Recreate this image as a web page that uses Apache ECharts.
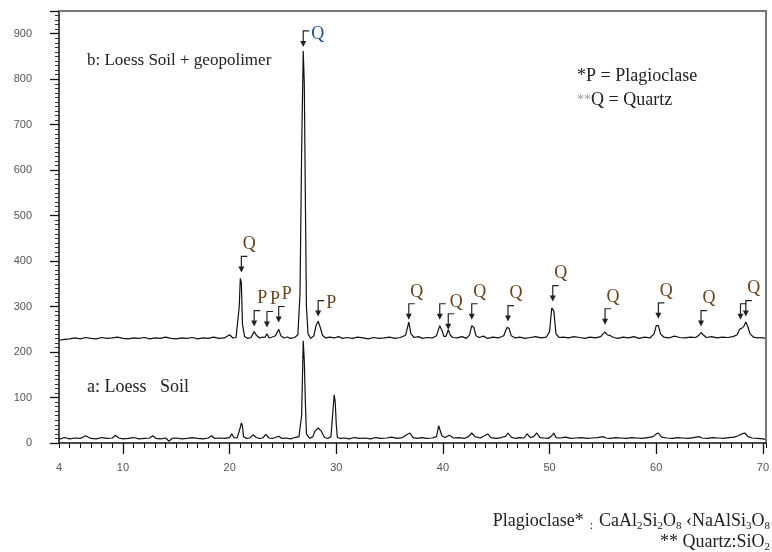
<!DOCTYPE html>
<html>
<head>
<meta charset="utf-8">
<script src="https://cdn.jsdelivr.net/npm/echarts@6/dist/echarts.min.js"></script>
<style>
  html,body{margin:0;padding:0;background:#fff;}
  #box{width:772px;height:552px;}
</style>
</head>
<body>
<div id="box"></div>
<script>
// b: Loess Soil + geopolimer  [2theta, counts]
var traceB=[
  [4.0,226],[4.5,228],[5.0,229],[5.5,231],[6.0,229],[6.5,232],[7.0,230],[7.5,229],[8.0,232],[8.5,230],
  [9.0,231],[9.5,233],[10.0,230],[10.5,229],[11.0,231],[11.5,230],[12.0,232],[12.5,229],[13.0,231],[13.5,230],
  [14.0,233],[14.5,230],[15.0,229],[15.5,231],[16.0,230],[16.5,232],[17.0,229],[17.5,231],[18.0,230],[18.5,233],
  [19.0,230],[19.5,231],[20.0,238],[20.3,231],[20.6,232],[20.9,300],[21.0,362],[21.1,352],[21.2,262],[21.4,234],
  [21.7,230],[22.0,232],[22.3,245],[22.5,237],[22.8,231],[23.1,233],[23.3,232],[23.5,240],[23.7,231],[24.0,233],
  [24.3,236],[24.6,250],[24.8,236],[25.1,231],[25.4,233],[25.7,230],[26.1,232],[26.4,238],[26.6,330],[26.75,640],
  [26.9,862],[27.0,790],[27.1,540],[27.2,300],[27.35,240],[27.6,230],[27.9,236],[28.1,258],[28.3,268],[28.5,254],
  [28.7,237],[29.0,231],[29.4,233],[29.8,231],[30.2,234],[30.6,230],[31.0,232],[31.5,230],[32.0,233],[32.5,231],
  [33.0,229],[33.5,232],[34.0,230],[34.5,231],[35.0,233],[35.5,230],[36.0,232],[36.5,237],[36.8,266],[37.0,240],
  [37.3,232],[37.7,234],[38.1,230],[38.5,232],[39.0,231],[39.4,236],[39.7,258],[39.9,248],[40.1,234],[40.3,235],
  [40.5,249],[40.7,237],[40.9,232],[41.3,231],[41.8,234],[42.2,230],[42.5,238],[42.7,258],[42.9,254],[43.1,236],
  [43.4,232],[43.8,235],[44.2,230],[44.7,233],[45.2,231],[45.7,236],[46.0,254],[46.2,252],[46.4,236],[46.8,231],
  [47.2,233],[47.7,230],[48.2,232],[48.7,234],[49.2,231],[49.7,233],[50.0,245],[50.2,297],[50.4,290],[50.6,240],
  [50.9,232],[51.3,233],[51.8,231],[52.3,234],[52.8,232],[53.3,230],[53.8,233],[54.3,231],[54.8,234],[55.0,240],
  [55.2,244],[55.4,238],[55.7,236],[56.0,232],[56.4,230],[56.9,233],[57.4,231],[57.9,234],[58.4,230],[58.9,233],
  [59.4,231],[59.8,240],[60.0,258],[60.2,258],[60.4,240],[60.7,233],[61.2,231],[61.7,235],[62.2,232],[62.7,231],
  [63.2,233],[63.7,232],[64.0,237],[64.2,243],[64.4,238],[64.7,232],[65.2,234],[65.7,231],[66.2,233],[66.7,232],
  [67.2,234],[67.6,238],[67.8,250],[68.0,252],[68.2,256],[68.4,266],[68.6,255],[68.8,240],[69.1,233],[69.5,231],
  [69.9,232],[70.2,230]
];
// a: Loess Soil
var traceA=[
  [4.0,8],[4.5,12],[5.0,9],[5.5,11],[6.0,10],[6.5,16],[6.8,12],[7.0,10],[7.5,9],[8.0,12],
  [8.5,10],[9.0,11],[9.3,17],[9.6,11],[10.0,9],[10.5,10],[11.0,12],[11.5,9],[12.0,10],[12.5,11],
  [12.8,16],[13.1,10],[13.5,9],[14.0,11],[14.3,4],[14.6,10],[15.0,11],[15.5,9],[16.0,10],[16.5,12],
  [17.0,10],[17.5,9],[18.0,11],[18.3,16],[18.6,10],[19.0,11],[19.5,10],[20.0,12],[20.2,20],[20.4,12],
  [20.7,11],[20.95,30],[21.1,44],[21.2,38],[21.3,14],[21.6,10],[21.9,11],[22.2,18],[22.5,12],[22.8,10],
  [23.1,11],[23.4,19],[23.7,11],[24.0,10],[24.3,12],[24.6,15],[24.9,10],[25.3,11],[25.7,9],[26.1,12],
  [26.5,14],[26.75,60],[26.9,225],[27.0,180],[27.1,90],[27.2,20],[27.5,10],[27.8,14],[28.0,26],[28.3,33],
  [28.6,26],[28.9,12],[29.2,10],[29.5,14],[29.65,60],[29.8,106],[29.9,90],[30.0,40],[30.1,12],[30.4,10],
  [30.8,11],[31.2,9],[31.7,12],[32.2,10],[32.7,11],[33.2,9],[33.7,12],[34.2,10],[34.7,11],[35.2,13],
  [35.7,10],[36.2,12],[36.6,18],[36.9,22],[37.2,12],[37.6,10],[38.0,12],[38.5,10],[39.0,11],[39.4,14],
  [39.6,38],[39.75,40],[39.9,16],[40.2,12],[40.6,17],[41.0,11],[41.5,12],[42.0,10],[42.4,14],[42.7,22],
  [43.0,14],[43.5,11],[43.9,16],[44.2,20],[44.5,12],[45.0,10],[45.5,12],[45.9,15],[46.1,22],[46.4,13],
  [46.8,10],[47.2,12],[47.6,11],[47.9,20],[48.2,12],[48.5,14],[48.8,22],[49.1,12],[49.5,11],[49.9,10],
  [50.2,16],[50.4,22],[50.6,12],[51.0,11],[51.5,13],[52.0,10],[52.5,11],[53.0,12],[53.5,10],[54.0,11],
  [54.5,12],[55.0,14],[55.3,11],[55.7,10],[56.2,12],[56.7,11],[57.2,10],[57.7,12],[58.2,11],[58.7,10],
  [59.2,12],[59.7,14],[60.0,20],[60.2,22],[60.5,13],[61.0,11],[61.5,10],[62.0,12],[62.5,11],[63.0,10],
  [63.5,12],[64.0,14],[64.3,11],[64.8,10],[65.3,12],[65.8,11],[66.3,10],[66.8,12],[67.3,13],[67.7,16],
  [68.0,20],[68.3,22],[68.6,14],[69.0,11],[69.5,10],[70.0,9],[70.2,8]
];

// peak markers: position, value where the arrow ends, letter
var markX=[21.1,22.3,23.5,24.6,26.9,28.3,36.8,39.7,40.5,42.7,46.1,50.3,55.2,60.2,64.2,67.9,68.4];
var markTip=[375,256,254,265,871,278,271,271,249,271,267,311,260,273,256,271,278];
var markLabel=['Q','P','P','P','Q','P','Q','','Q','Q','Q','Q','Q','Q','Q','','Q'];
var markSide=['top','top','top','top','right','right','top','top','top','top','top','top','top','top','top','top','top'];

var xLabels=[4,10,20,30,40,50,60,70];
var xMajor=[10,20,30,40,50,60,70];

var markData=[];
for(var i=0;i<markX.length;i++){
  markData.push([markX[i],markTip[i],i]);
}

function drawArrow(params,api){
  var i=api.value(2);
  var p=api.coord([api.value(0),api.value(1)]);
  var top=p[1]-16;
  var kids=[
    {type:'polyline',shape:{points:[[p[0]+6,top],[p[0],top],[p[0],p[1]-4]]},
      style:{stroke:'#222',lineWidth:1.2,fill:null}},
    {type:'polygon',shape:{points:[[p[0]-3,p[1]-6],[p[0]+3,p[1]-6],[p[0],p[1]]]},
      style:{fill:'#222'}}
  ];
  var t=markLabel[i];
  if(t){
    var side=markSide[i];
    var blue=(i==4);
    kids.push({
      type:'text',
      x:p[0]+8,
      y:side=='right'?top+3:top-3,
      style:{
        text:t,
        fill:blue?'#24508f':'#6a4320',
        font:'18px "Liberation Serif", "DejaVu Serif", serif',
        align:side=='right'?'left':'center',
        verticalAlign:side=='right'?'middle':'bottom'
      }
    });
  }
  return {type:'group',children:kids};
}

var mychart=echarts.init(document.getElementById('box'));
var serif='"Liberation Serif", "Times New Roman", serif';
var option={
  animation:false,
  grid:{left:59,right:2,top:11,bottom:109},
  xAxis:[{
    type:'value',min:4,max:70.3,interval:1,position:'bottom',
    axisLine:{lineStyle:{color:'#111',width:1.5}},
    axisTick:{length:5,lineStyle:{color:'#111'}},
    axisLabel:{show:false},
    splitLine:{show:false}
  },{
    type:'value',min:4,max:70.3,position:'bottom',
    axisLine:{show:false},
    axisTick:{customValues:xMajor,length:11,lineStyle:{color:'#111',width:1.3}},
    axisLabel:{customValues:xLabels,margin:19,color:'#555',fontSize:11,fontFamily:'Arial, "Liberation Sans", sans-serif'},
    splitLine:{show:false}
  },{
    type:'value',min:4,max:70.3,position:'top',
    axisLine:{lineStyle:{color:'#777',width:2}},
    axisTick:{show:false},axisLabel:{show:false},splitLine:{show:false}
  }],
  yAxis:[{
    type:'value',min:0,max:950,interval:100,position:'left',
    axisLine:{show:true,lineStyle:{color:'#111',width:1.5}},
    axisTick:{show:true,length:9,lineStyle:{color:'#111',width:1.3}},
    minorTick:{show:true,splitNumber:10,length:4,lineStyle:{color:'#333'}},
    axisLabel:{margin:27,color:'#555',fontSize:11,fontFamily:'Arial, "Liberation Sans", sans-serif',showMaxLabel:false},
    splitLine:{show:false}
  },{
    type:'value',min:0,max:950,position:'right',
    axisLine:{show:true,lineStyle:{color:'#777',width:2}},
    axisTick:{show:false},axisLabel:{show:false},splitLine:{show:false}
  }],
  series:[{
    name:'b',type:'line',data:traceB,xAxisIndex:0,yAxisIndex:0,
    showSymbol:false,lineStyle:{color:'#111',width:1.2}
  },{
    name:'a',type:'line',data:traceA,xAxisIndex:0,yAxisIndex:0,
    showSymbol:false,lineStyle:{color:'#111',width:1.2}
  },{
    name:'marks',type:'custom',data:markData,xAxisIndex:0,yAxisIndex:0,
    renderItem:drawArrow,silent:true
  }],
  graphic:[
    {type:'text',left:87,top:52,style:{text:'b: Loess Soil + geopolimer',fill:'#222',font:'17px '+serif}},
    {type:'text',left:87,top:378,style:{text:'a: Loess   Soil',fill:'#222',font:'18px '+serif}},
    {type:'text',left:577,top:67,style:{text:'*P = Plagioclase',fill:'#222',font:'18px '+serif}},
    {type:'text',left:577,top:91,style:{
      text:'{s|**}{n|Q = Quartz}',
      rich:{s:{fill:'#999',font:'14px '+serif},n:{fill:'#222',font:'18px '+serif}}
    }},
    {type:'text',right:2,top:512,style:{
      text:'{n|Plagioclase*}{p|  :  }{n|CaAl}{b|2}{n|Si}{b|2}{n|O}{b|8}{n| \u2039NaAlSi}{b|3}{n|O}{b|8}',
      rich:{
        n:{fill:'#222',font:'18px '+serif,verticalAlign:'top'},
        p:{fill:'#222',font:'12px '+serif,verticalAlign:'top',padding:[8,0,0,0]},
        b:{fill:'#222',font:'11px '+serif,verticalAlign:'top',padding:[9,0,0,0]}
      }
    }},
    {type:'text',right:2,top:533,style:{
      text:'{n|** Quartz:SiO}{b|2}',
      rich:{
        n:{fill:'#222',font:'18px '+serif,verticalAlign:'top'},
        b:{fill:'#222',font:'11px '+serif,verticalAlign:'top',padding:[9,0,0,0]}
      }
    }}
  ]
};
mychart.setOption(option);
</script>
</body>
</html>
